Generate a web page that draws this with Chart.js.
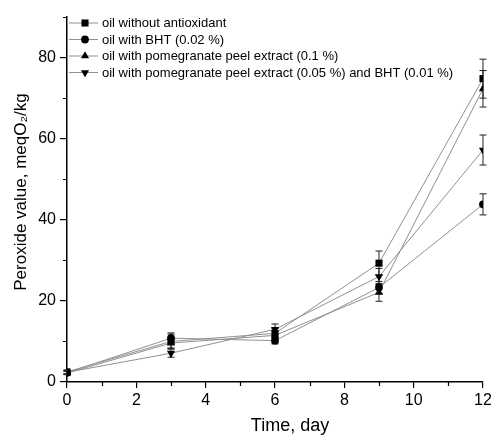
<!DOCTYPE html>
<html>
<head>
<meta charset="utf-8">
<script src="https://cdn.jsdelivr.net/npm/chart.js@4.4.0/dist/chart.umd.min.js"></script>
<style>
  html, body { margin: 0; padding: 0; background: #fff; }
  #wrap { width: 491px; height: 437px; }
</style>
</head>
<body>
<div id="wrap"><canvas id="chart" width="491" height="437"></canvas></div>
<script>
// storage time, days
const days = [0, 3, 6, 9, 12];

const seriesNames = [
  'oil without antioxidant',
  'oil with BHT (0.02 %)',
  'oil with pomegranate peel extract (0.1 %)',
  'oil with pomegranate peel extract (0.05 %) and BHT (0.01 %)'
];

// peroxide value, meqO2/kg (mean and +/- error)
const noAntioxidant    = [2.5, 10.0, 12.0, 29.3, 74.8];
const noAntioxidantErr = [0.5, 1.8, 1.2, 3.0, 4.8];
const bht              = [2.3, 10.8, 10.2, 23.3, 43.8];
const bhtErr           = [0.4, 1.3, 0.8, 1.5, 2.6];
const peel             = [2.2, 9.6, 11.5, 22.1, 72.3];
const peelErr          = [0.4, 1.2, 1.0, 2.2, 4.5];
const peelBht          = [2.4, 7.1, 13.0, 26.0, 57.2];
const peelBhtErr       = [0.4, 1.0, 1.3, 2.0, 3.7];

const xTicks = [0, 2, 4, 6, 8, 10, 12];
const xMinorTicks = [1, 3, 5, 7, 9, 11];
const yTicks = [0, 20, 40, 60, 80];
const yMinorTicks = [10, 30, 50, 70, 90];

const FONT = "'Liberation Sans', Arial, sans-serif";

function toPoints(values) {
  return values.map((v, i) => ({ x: days[i], y: v }));
}

const markers = [
  { pointStyle: 'rect', radius: 5, rotation: 0 },
  { pointStyle: 'circle', radius: 3.9, rotation: 0 },
  { pointStyle: 'triangle', radius: 4.7, rotation: 0 },
  { pointStyle: 'triangle', radius: 4.7, rotation: 180 }
];

const allValues = [noAntioxidant, bht, peel, peelBht];
const allErrors = [noAntioxidantErr, bhtErr, peelErr, peelBhtErr];

const datasets = allValues.map((vals, i) => ({
  label: seriesNames[i],
  data: toPoints(vals),
  errors: allErrors[i],
  borderColor: '#909090',
  borderWidth: 1,
  backgroundColor: '#000',
  pointBackgroundColor: '#000',
  pointBorderColor: '#000',
  pointBorderWidth: 0,
  pointStyle: markers[i].pointStyle,
  pointRadius: markers[i].radius,
  pointRotation: markers[i].rotation,
  tension: 0
}));

// error bars with caps
const errorBars = {
  id: 'errorBars',
  beforeDatasetsDraw(chart) {
    const ctx = chart.ctx;
    const xs = chart.scales.x, ys = chart.scales.y;
    ctx.save();
    ctx.strokeStyle = '#222';
    ctx.lineWidth = 1;
    chart.data.datasets.forEach(ds => {
      ds.data.forEach((p, i) => {
        const e = ds.errors[i];
        const px = xs.getPixelForValue(p.x);
        const top = ys.getPixelForValue(p.y + e);
        const bot = ys.getPixelForValue(p.y - e);
        ctx.beginPath();
        ctx.moveTo(px, top); ctx.lineTo(px, bot);
        ctx.moveTo(px - 3.5, top); ctx.lineTo(px + 3.5, top);
        ctx.moveTo(px - 3.5, bot); ctx.lineTo(px + 3.5, bot);
        ctx.stroke();
      });
    });
    ctx.restore();
  }
};

// minor ticks, legend inside the plot and axis titles
const decorations = {
  id: 'decorations',
  afterDraw(chart) {
    const ctx = chart.ctx;
    const xs = chart.scales.x, ys = chart.scales.y;
    const area = chart.chartArea;
    ctx.save();
    ctx.strokeStyle = '#000';
    ctx.lineWidth = 1.2;
    ctx.beginPath();
    xMinorTicks.forEach(v => {
      const px = Math.round(xs.getPixelForValue(v)) + 0.5;
      ctx.moveTo(px, area.bottom); ctx.lineTo(px, area.bottom + 4);
    });
    yMinorTicks.forEach(v => {
      const py = Math.round(ys.getPixelForValue(v)) + 0.5;
      ctx.moveTo(area.left, py); ctx.lineTo(area.left - 4, py);
    });
    ctx.stroke();

    // legend
    ctx.font = '13px ' + FONT;
    ctx.textBaseline = 'middle';
    ctx.textAlign = 'left';
    chart.data.datasets.forEach((ds, i) => {
      const y = area.top + 6 + i * 16.5;
      const x0 = area.left + 2;
      ctx.strokeStyle = '#909090';
      ctx.lineWidth = 1;
      ctx.beginPath();
      ctx.moveTo(x0, y); ctx.lineTo(x0 + 29, y);
      ctx.stroke();
      ctx.fillStyle = '#000';
      ctx.strokeStyle = '#000';
      Chart.helpers.drawPoint(ctx, {
        pointStyle: ds.pointStyle,
        radius: ds.pointRadius,
        rotation: ds.pointRotation,
        borderWidth: 0
      }, x0 + 16, y);
      ctx.fillStyle = '#000';
      ctx.fillText(ds.label, x0 + 33, y + 0.5);
    });

    // axis titles
    ctx.fillStyle = '#000';
    ctx.font = '18px ' + FONT;
    ctx.textAlign = 'center';
    ctx.fillText('Time, day', 290, 426);
    ctx.translate(21, 192);
    ctx.rotate(-Math.PI / 2);
    ctx.font = '17px ' + FONT;
    ctx.fillText('Peroxide value, meqO\u2082/kg', 0, 0);
    ctx.restore();
  }
};

new Chart(document.getElementById('chart'), {
  type: 'line',
  data: { datasets },
  options: {
    responsive: false,
    animation: false,
    layout: { padding: { top: 17, right: 8, left: 0, bottom: 0 } },
    plugins: { legend: { display: false }, tooltip: { enabled: false } },
    scales: {
      x: {
        type: 'linear',
        min: 0,
        max: 12,
        afterBuildTicks: s => { s.ticks = xTicks.map(v => ({ value: v })); },
        afterFit: s => { s.height = 55; s.paddingLeft = 0; s.paddingRight = 0; },
        ticks: { color: '#000', font: { family: FONT, size: 16 }, padding: 3, maxRotation: 0 },
        grid: { drawOnChartArea: false, drawTicks: true, tickLength: 6, color: '#000', lineWidth: 1.2 },
        border: { color: '#000', width: 1.5 }
      },
      y: {
        min: 0,
        max: 90,
        afterBuildTicks: s => { s.ticks = yTicks.map(v => ({ value: v })); },
        afterFit: s => { s.width = 67; s.paddingTop = 0; s.paddingBottom = 0; },
        ticks: { color: '#000', font: { family: FONT, size: 16 }, padding: 4 },
        grid: { drawOnChartArea: false, drawTicks: true, tickLength: 7, color: '#000', lineWidth: 1.2 },
        border: { color: '#000', width: 1.5 }
      }
    }
  },
  plugins: [errorBars, decorations]
});
</script>
</body>
</html>
